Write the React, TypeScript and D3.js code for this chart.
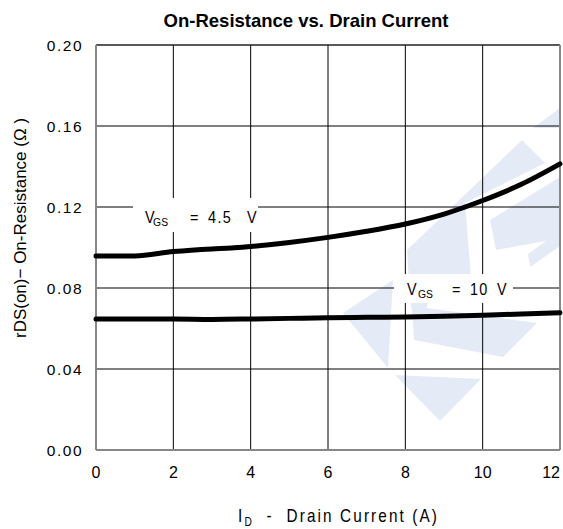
import React from "react";
import * as d3 from "d3";

const xTicks = [0, 2, 4, 6, 8, 10, 12];
const yTicks = [0, 0.04, 0.08, 0.12, 0.16, 0.2];
const yTickLabels = ["0.00", "0.04", "0.08", "0.12", "0.16", "0.20"];

const current45 = [0, 1, 2, 3, 3.5, 4, 5, 6, 7, 8, 9, 10, 11, 12];
const res45 = [0.0958, 0.0958, 0.098, 0.0993, 0.0997, 0.1005, 0.1025, 0.105, 0.108, 0.1116, 0.1165, 0.1232, 0.1312, 0.1413];

const current10 = [0, 1, 2, 3, 4, 5, 6, 7, 8, 9, 10, 11, 12];
const res10 = [0.0647, 0.0647, 0.0647, 0.0645, 0.0647, 0.065, 0.0653, 0.0655, 0.0657, 0.066, 0.0665, 0.0672, 0.0678];

const title = "On-Resistance vs. Drain Current";

const W = 563;
const H = 529;
const M = { left: 96, right: 560, top: 45, bottom: 450 };

const watermark: [number, number][][] = [
  [[343, 313], [393, 280], [388, 368]],
  [[395, 375], [481, 379], [440, 421]],
  [[407, 250], [522, 140], [545, 163], [465, 203], [472, 290], [430, 296], [417, 340], [410, 300]],
  [[412, 306], [537, 323], [503, 357], [414, 340]],
  [[490, 220], [560, 177], [560, 246], [530, 267], [528, 254], [546, 241], [496, 250]],
  [[533, 128], [560, 108], [560, 128]],
];

export default function App() {
  const x = d3.scaleLinear().domain([0, 12]).range([M.left, M.right]);
  const y = d3.scaleLinear().domain([0, 0.2]).range([M.bottom, M.top]);
  const line = d3
    .line<[number, number]>()
    .x((d) => x(d[0]))
    .y((d) => y(d[1]))
    .curve(d3.curveMonotoneX);
  const d45 = line(current45.map((c, i) => [c, res45[i]] as [number, number])) || "";
  const d10 = line(current10.map((c, i) => [c, res10[i]] as [number, number])) || "";
  const sans = "'Liberation Sans', Arial, sans-serif";

  const lbl1 = { x: x(1.27), y: y(0.1121) };
  const lbl2 = { x: x(8.04), y: y(0.0765) };

  const vgs = (p: { x: number; y: number }, gsDx: number, eqDx: number, valDx: number, vDx: number, val: string) => (
    <g fontFamily={sans} fill="#000">
      <text transform={`translate(${p.x},${p.y}) scale(0.9,1)`} fontSize={16}>V</text>
      <text transform={`translate(${p.x + gsDx},${p.y + 3}) scale(0.9,1)`} fontSize={11.5}>GS</text>
      <text transform={`translate(${p.x + eqDx},${p.y}) scale(0.9,1)`} fontSize={16}>=</text>
      <text transform={`translate(${p.x + valDx},${p.y}) scale(0.9,1)`} fontSize={16} letterSpacing={1.5}>{val}</text>
      <text transform={`translate(${p.x + vDx},${p.y}) scale(0.9,1)`} fontSize={16}>V</text>
    </g>
  );

  return (
    <svg width={W} height={H} style={{ position: "absolute", left: 0, top: 0, background: "#fff" }}>
      <rect x={0} y={0} width={W} height={H} fill="#fff" />
      <text x={306} y={27} textAnchor="middle" fontFamily={sans} fontWeight="bold" fontSize={18.5} fill="#000">
        {title}
      </text>
      <g fill="#e5ebf6">
        {watermark.map((p, i) => (
          <polygon key={i} points={p.map((q) => q.join(",")).join(" ")} />
        ))}
      </g>
      {xTicks.slice(1, -1).map((t) => (
        <line key={"gx" + t} x1={x(t)} x2={x(t)} y1={M.top} y2={M.bottom} stroke="#000" strokeWidth={1} />
      ))}
      {yTicks.slice(1, -1).map((t) => (
        <line key={"gy" + t} x1={M.left} x2={M.right} y1={y(t)} y2={y(t)} stroke="#000" strokeWidth={1} />
      ))}
      <line x1={M.left} x2={M.right} y1={M.top} y2={M.top} stroke="#222" strokeWidth={1.5} />
      <line x1={M.left} x2={M.left} y1={M.top} y2={M.bottom} stroke="#888" strokeWidth={2} />
      <line x1={M.right} x2={M.right} y1={M.top} y2={M.bottom} stroke="#888" strokeWidth={2} />
      <line x1={M.left} x2={M.right} y1={M.bottom} y2={M.bottom} stroke="#888" strokeWidth={2} />

      <rect x={133} y={198} width={125} height={34} fill="#fff" />
      <rect x={394} y={274} width={119} height={29} fill="#fff" />

      <path d={d45} fill="none" stroke="#000" strokeWidth={5} strokeLinecap="round" />
      <path d={d10} fill="none" stroke="#000" strokeWidth={5} strokeLinecap="round" />

      {vgs(lbl1, 8, 45, 63, 102, "4.5")}
      {vgs(lbl2, 11, 45, 63, 90, "10")}

      <g fontFamily={sans} fill="#000">
        {yTicks.map((t, i) => (
          <text key={"ty" + t} x={83} y={y(t) + 5.5} textAnchor="end" fontSize={15.5} letterSpacing={1.5}>
            {yTickLabels[i]}
          </text>
        ))}
        {xTicks.map((t, i) => (
          <text
            key={"tx" + t}
            x={i === xTicks.length - 1 ? M.right : x(t)}
            y={478}
            textAnchor={i === xTicks.length - 1 ? "end" : "middle"}
            fontSize={16}
          >
            {t}
          </text>
        ))}
      </g>

      <text
        transform="translate(238,522) scale(0.85,1)"
        fontFamily={sans}
        fontSize={18}
        letterSpacing={2.5}
        fill="#000"
        style={{ whiteSpace: "pre" }}
      >
        <tspan>I</tspan>
        <tspan fontSize={12} dy={4}>D</tspan>
        <tspan dy={-4}>{"  -  Drain Current (A)"}</tspan>
      </text>

      <text
        transform="translate(26,228) rotate(-90)"
        textAnchor="middle"
        fontFamily={sans}
        fontSize={17}
        fill="#000"
        style={{ whiteSpace: "pre" }}
      >
        {"rDS(on)− On-Resistance (Ω )"}
      </text>
    </svg>
  );
}
